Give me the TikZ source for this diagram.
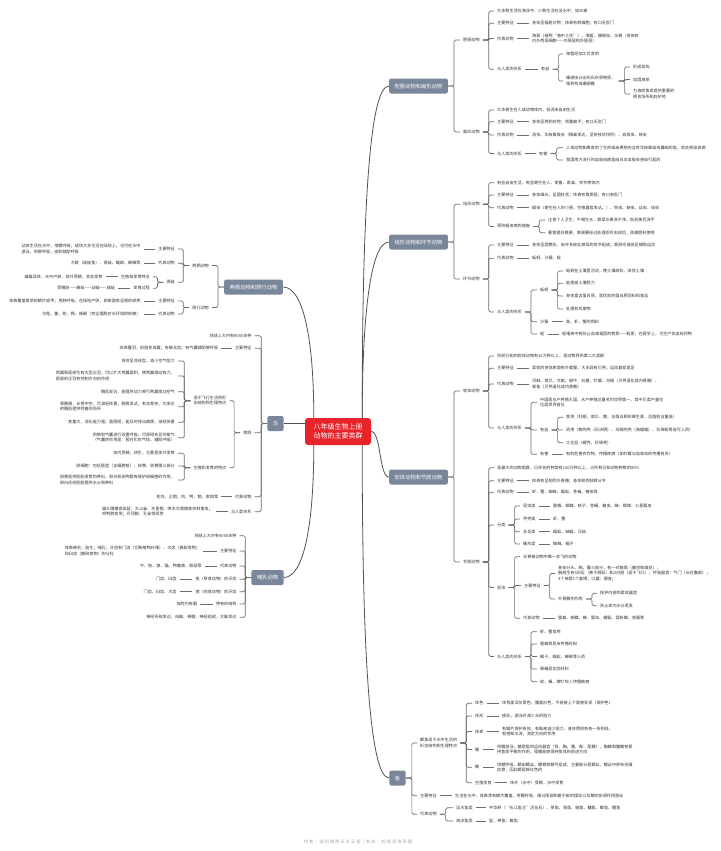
\documentclass[tikz,border=0pt]{standalone}
\usepackage{fontspec}
\newfontfamily\zh{Noto Sans CJK SC}
\definecolor{slate}{HTML}{7A869A}
\definecolor{rootred}{HTML}{E8232A}
\definecolor{wire}{HTML}{6E6E6E}
\definecolor{ink}{HTML}{333333}
\definecolor{faint}{HTML}{A8A8A8}
\begin{document}
\begin{tikzpicture}[x=1pt,y=-1pt,
    leaf/.style={font=\zh\fontsize{4.1}{5.4}\selectfont,text=ink,inner xsep=3pt,inner ysep=.5pt,align=left},
    leafr/.style={leaf,anchor=west},
    leafl/.style={leaf,anchor=east},
    topic/.style={fill=slate,text=white,font=\zh\fontsize{5.3}{6}\selectfont,rounded corners=2pt,inner xsep=5.5pt,minimum height=15pt},
    root/.style={fill=rootred,text=white,font=\zh\fontsize{7}{9}\selectfont,rounded corners=3pt,align=center,minimum width=66pt,minimum height=27pt},
    tie/.style={draw=wire,line width=.7pt},
    kid/.style={tie,rounded corners=1.5pt,to path={-- ++(6pt,0) |- (\tikztotarget)}},
    kidl/.style={tie,rounded corners=1.5pt,to path={-- ++(-6pt,0) |- (\tikztotarget)}},
    bough/.style={draw=wire!75!black,line width=.8pt}]
  \fill[white] (0,0) rectangle (720,851);
  \useasboundingbox (0,0) rectangle (720,851);
  \node[root] (root) at (338,431.5) {八年级生物上册\\动物的主要类群};
  \node[topic] (ta) at (418.5,86) {腔肠动物和扁形动物};
  \node[topic] (tb) at (418.5,242) {线形动物和环节动物};
  \node[topic] (tc) at (418.5,477) {软体动物和节肢动物};
  \node[topic] (td) at (397.5,778) {鱼};
  \node[topic] (te) at (253.5,287) {两栖动物和爬行动物};
  \node[topic] (tf) at (275.5,423.5) {鸟};
  \node[topic] (tg) at (267.5,577.5) {哺乳动物};
  \draw[bough] ([xshift=-9pt]root.north east) .. controls +(0,-200) and +(-20,0) .. (ta.west);
  \draw[bough] ([xshift=-9pt]root.north east) .. controls +(0,-90) and +(-20,0) .. (tb.west);
  \draw[bough] (root.east) .. controls +(10,0) and +(-10,0) .. (tc.west);
  \draw[bough] ([xshift=-9pt]root.south east) .. controls +(0,200) and +(-20,0) .. (td.west);
  \draw[bough] ([xshift=9pt]root.north west) .. controls +(0,-80) and +(20,0) .. (te.east);
  \draw[bough] (tf.east) -- (tf.east -| root.west);
  \draw[bough] ([xshift=9pt]root.south west) .. controls +(0,80) and +(20,0) .. (tg.east);

  \node[leafr] (a1) at (460,40) {腔肠动物};
  \node[leafr] (a11) at (494,11) {大多数生活在海洋中，少数生活在淡水中，如水螅};
  \node[leafr] (a12) at (494,23.3) {主要特征};
  \node[leafr] (a12x) at (529,23.3) {身体呈辐射对称；体表有刺细胞；有口无肛门};
  \node[leafr] (a13) at (494,38.5) {代表动物};
  \node[leafr] (a13x) at (529,38.5) {海葵（被称“海中之花”）、海蜇、珊瑚虫、水螅（身体有\\内外两层细胞——内胚层和外胚层）};
  \node[leafr] (a14) at (494,69.3) {与人类的关系};
  \node[leafr] (a14x) at (538,69.3) {有益};
  \node[leafr] (a141) at (563,54) {海蜇经加工可食用};
  \node[leafr] (a142) at (563,81) {珊瑚虫分泌的石灰质物质，\\堆积构成珊瑚礁};
  \node[leafr] (a1421) at (630,67) {形成岛屿};
  \node[leafr] (a1422) at (630,79.5) {加固海岸};
  \node[leafr] (a1423) at (630,94) {为海底鱼类提供重要的\\栖息场所和庇护地};
  \node[leafr] (a2) at (460,132) {扁形动物};
  \node[leafr] (a21) at (494,110) {大多寄生在人或动物体内，但涡虫自由生活};
  \node[leafr] (a22) at (494,121.7) {主要特征};
  \node[leafr] (a22x) at (529,121.7) {身体呈两侧对称；背腹扁平；有口无肛门};
  \node[leafr] (a23) at (494,135) {代表动物};
  \node[leafr] (a23x) at (529,135) {涡虫、华枝睾吸虫（精巢发达，呈树枝状排列）、血吸虫、绦虫};
  \node[leafr] (a24) at (494,153.5) {与人类的关系};
  \node[leafr] (a24x) at (536,153.5) {有害};
  \node[leafr] (a241) at (563,147.7) {人或动物如果食用了生的或未煮熟的含有华枝睾吸虫囊蚴的鱼，就会感染该病};
  \node[leafr] (a242) at (563,160) {我国南方流行的血吸虫病是由日本血吸虫感染引起的};

  \node[leafr] (b1) at (460,204.3) {线形动物};
  \node[leafr] (b11) at (494,182.7) {有些自由生活，有些寄生在人、家畜、家禽、农作物体内};
  \node[leafr] (b12) at (494,195) {主要特征};
  \node[leafr] (b12x) at (529,195) {身体细长，呈圆柱状；体表有角质层；有口有肛门};
  \node[leafr] (b13) at (494,207.7) {代表动物};
  \node[leafr] (b13x) at (529,207.7) {蛔虫（寄生在人的小肠，生殖器官发达。）、钩虫、蛲虫、丝虫、线虫};
  \node[leafr] (b14) at (494,226.4) {预防蛔虫病的措施};
  \node[leafr] (b141) at (545,220) {注意个人卫生，不喝生水，蔬菜水果洗干净，饭前便后洗手};
  \node[leafr] (b142) at (545,232.7) {要管理好粪便，粪便要经过处理杀死虫卵后，再做肥料使用};
  \node[leafr] (b2) at (460,279) {环节动物};
  \node[leafr] (b21) at (494,245) {主要特征};
  \node[leafr] (b21x) at (529,245) {身体呈圆筒形，由许多彼此相似的体节组成；靠刚毛或疣足辅助运动};
  \node[leafr] (b22) at (494,258.3) {代表动物};
  \node[leafr] (b22x) at (529,258.3) {蚯蚓、沙蚕、蛭};
  \node[leafr] (b23) at (494,312) {与人类的关系};
  \node[leafr] (b231) at (537,290) {蚯蚓};
  \node[leafr] (b2311) at (563,271) {蚯蚓在土壤里活动，使土壤疏松，改良土壤};
  \node[leafr] (b2312) at (563,283.3) {能提高土壤肥力};
  \node[leafr] (b2313) at (563,296) {身体富含蛋白质，是优良的蛋白质饲料和食品};
  \node[leafr] (b2314) at (563,309) {处理有机废物};
  \node[leafr] (b232) at (537,321.7) {沙蚕};
  \node[leafr] (b232x) at (563,321.7) {鱼、虾、蟹的饵料};
  \node[leafr] (b233) at (537,334) {蛭};
  \node[leafr] (b233x) at (559,334) {蛭唾液中有防止血液凝固的物质——蛭素，在医学上，可生产抗血栓药物};

  \node[leafr] (c1) at (460,391) {软体动物};
  \node[leafr] (c11) at (494,356) {目前已知的软体动物有10万种以上，是动物界的第二大类群};
  \node[leafr] (c12) at (494,368.3) {主要特征};
  \node[leafr] (c12x) at (529,368.3) {柔软的身体表面有外套膜，大多具有贝壳；运动器官是足};
  \node[leafr] (c13) at (494,384) {代表动物};
  \node[leafr] (c13x) at (529,384) {河蚌、扇贝、文蛤、蜗牛、石鳖、钉螺、乌贼（贝壳退化成内骨骼）、\\章鱼（贝壳退化成内骨骼）};
  \node[leafr] (c14) at (494,428) {与人类的关系};
  \node[leafr] (c141) at (537,402.3) {中国是水产养殖大国，水产养殖总量名列世界第一，其中贝类产量也\\位居世界首位};
  \node[leafr] (c142) at (537,430) {有益};
  \node[leafr] (c1421) at (563,417.3) {食用（牡蛎、扇贝、鲍，含蛋白质和维生素，且脂肪含量低）};
  \node[leafr] (c1422) at (563,430) {药用（鲍的壳（石决明）、乌贼的壳（海螵蛸）、珍珠粉等皆可入药）};
  \node[leafr] (c1423) at (563,442.7) {工艺品（螺壳、珍珠壳）};
  \node[leafr] (c143) at (537,454.3) {有害};
  \node[leafr] (c143x) at (563,454.3) {有的危害农作物，传播疾病（如钉螺与血吸虫的传播有关）};
  \node[leafr] (c2) at (460,562) {节肢动物};
  \node[leafr] (c21) at (494,467.7) {是最大的动物类群，已命名的种类有120万种以上，占所有已知动物种数的80\%};
  \node[leafr] (c22) at (494,480.7) {主要特征};
  \node[leafr] (c22x) at (529,480.7) {体表有坚韧的外骨骼；身体和附肢都分节};
  \node[leafr] (c23) at (494,492.3) {代表动物};
  \node[leafr] (c23x) at (529,492.3) {虾、蟹、蜘蛛、蜈蚣、苍蝇、蝗虫等};
  \node[leafr] (c24) at (494,525) {分类};
  \node[leafr] (c241) at (520,506) {昆虫类};
  \node[leafr] (c241x) at (550,506) {蜜蜂、蝴蝶、蚊子、苍蝇、蝗虫、蝉、蟋蟀、七星瓢虫};
  \node[leafr] (c242) at (520,519) {甲壳类};
  \node[leafr] (c242x) at (550,519) {虾、蟹};
  \node[leafr] (c243) at (520,531.7) {多足类};
  \node[leafr] (c243x) at (550,531.7) {蜈蚣、蚰蜒、马陆};
  \node[leafr] (c244) at (520,544) {蛛形类};
  \node[leafr] (c244x) at (550,544) {蜘蛛、蝎子};
  \node[leafr] (c25) at (494,587.5) {昆虫};
  \node[leafr] (c251) at (520,556.7) {无脊椎动物中唯一会飞的动物};
  \node[leafr] (c252) at (521,585.5) {主要特征};
  \node[leafr] (c2521) at (555,573.5) {身体分头、胸、腹三部分；有一对触角（触觉和嗅觉）；\\胸部生有3对足（善于跳跃）和2对翅（适于飞行）；呼吸器官：气门（长在腹部）；\\3个单眼1个复眼；口器：摄食；};
  \node[leafr] (c2522) at (555,599) {外骨骼的作用};
  \node[leafr] (c25221) at (597,593.3) {保护内部的柔软器官};
  \node[leafr] (c25222) at (597,605.7) {防止体内水分蒸发};
  \node[leafr] (c253) at (520,618.3) {代表动物};
  \node[leafr] (c253x) at (555,618.3) {蜜蜂、蝴蝶、蝉、瓢虫、蜻蜓、菜粉蝶、家蚕等};
  \node[leafr] (c26) at (494,656.5) {与人类的关系};
  \node[leafr] (c261) at (537,631.7) {虾、蟹食用};
  \node[leafr] (c262) at (537,644) {蜜蜂等昆虫传播花粉};
  \node[leafr] (c263) at (537,656.5) {蝎子、蜈蚣、蝉蜕等入药};
  \node[leafr] (c264) at (537,669) {果蝇是实验材料};
  \node[leafr] (c265) at (537,681.7) {蚊、蝇、蜱叮咬人传播疾病};

  \node[leafr] (d1) at (417,743) {鲫鱼适于水中生活的\\形态结构和生理特点};
  \node[leafr] (d11) at (472,703.3) {体色};
  \node[leafr] (d11x) at (499,703.3) {体背面深灰黑色，腹面白色，不易被上下敌害发现（保护色）};
  \node[leafr] (d12) at (472,716) {体形};
  \node[leafr] (d12x) at (499,716) {梭形，游泳时减少水的阻力};
  \node[leafr] (d13) at (472,731.5) {体表};
  \node[leafr] (d13x) at (499,731.5) {有鳞片保护身体，有黏液减少阻力，身体两侧各有一条侧线，\\有感知水流，测定方向的作用};
  \node[leafr] (d14) at (472,749.5) {鳍};
  \node[leafr] (d14x) at (494,749.5) {用鳍游泳，鳍是鱼的运动器官（背、胸、腹、臀、尾鳍），胸鳍和腹鳍有保\\持鱼体平衡的作用，尾鳍能够保持鱼体的前进方向};
  \node[leafr] (d15) at (472,767.3) {鳃};
  \node[leafr] (d15x) at (494,767.3) {用鳃呼吸，鳃由鳃丝、鳃耙和鳃弓组成，主要部分是鳃丝，鳃丝中密布毛细\\血管，因此鳃是鲜红色的};
  \node[leafr] (d16) at (472,782.7) {生殖发育};
  \node[leafr] (d16x) at (507,782.7) {体外（水中）受精，水中发育};
  \node[leafr] (d2) at (417,795.7) {主要特征};
  \node[leafr] (d2x) at (452,795.7) {生活在水中，体表常有鳞片覆盖，用鳃呼吸，通过尾部和躯干部的摆动以及鳍的协调作用游泳};
  \node[leafr] (d3) at (417,814.3) {代表动物};
  \node[leafr] (d31) at (453,807.7) {淡水鱼类};
  \node[leafr] (d31x) at (486,807.7) {中华鲟（“长江鱼王”活化石）、草鱼、青鱼、鲢鱼、鳙鱼、鲫鱼、鲤鱼};
  \node[leafr] (d32) at (453,821) {海洋鱼类};
  \node[leafr] (d32x) at (486,821) {鲨、带鱼、鲅鱼};

  \node[leafl] (e1) at (212,265.5) {两栖动物};
  \node[leafl] (e11) at (178,249) {主要特征};
  \node[leafl] (e11x) at (143.7,249) {幼体生活在水中，用鳃呼吸；成体大多生活在陆地上，也可在水中\\游泳，用肺呼吸，皮肤辅助呼吸};
  \node[leafl] (e12) at (178,263.3) {代表动物};
  \node[leafl] (e12x) at (143.7,263.3) {大鲵（娃娃鱼）、青蛙、蟾蜍、蝾螈等};
  \node[leafl] (e13) at (178,282.3) {青蛙};
  \node[leafl] (e131) at (153,276.7) {生殖和发育特点};
  \node[leafl] (e131x) at (105.7,276.7) {雌雄异体，水中产卵，体外受精，变态发育};
  \node[leafl] (e132) at (153,288.3) {发育过程};
  \node[leafl] (e132x) at (118,288.3) {受精卵——蝌蚪——幼蛙——成蛙};
  \node[leafl] (e2) at (212,307.5) {爬行动物};
  \node[leafl] (e21) at (178,301) {主要特征};
  \node[leafl] (e21x) at (143.7,301) {体表覆盖角质的鳞片或甲；用肺呼吸；在陆地产卵，卵表面有坚韧的卵壳};
  \node[leafl] (e22) at (178,314) {代表动物};
  \node[leafl] (e22x) at (143.7,314) {乌龟、鳖、蛇、鳄、蜥蜴（完全摆脱对水环境的依赖）};

  \node[leafl] (f1) at (254.7,335.7) {地球上大约有9000多种};
  \node[leafl] (f2) at (254.7,348.3) {主要特征};
  \node[leafl] (f2x) at (221.3,348.3) {体表覆羽，前肢变成翼；有喙无齿；有气囊辅助肺呼吸};
  \node[leafl] (f3) at (254.7,432.7) {家鸽};
  \node[leafl] (f31) at (229.5,400.7) {适于飞行生活的形\\态结构和生理特点};
  \node[leafl] (f311) at (178,361) {身体呈流线型，减小空气阻力};
  \node[leafl] (f312) at (178,376) {两翼和尾部生有大型正羽，可以扩大两翼面积，使两翼扇动有力，\\尾部的正羽有控制方向的作用};
  \node[leafl] (f313) at (178,391.7) {胸肌发达，能提供动力牵引两翼扇动空气};
  \node[leafl] (f314) at (178,406.7) {骨骼薄，长骨中空，可减轻体重；胸骨发达，有龙骨突，为发达\\的胸肌提供附着的场所};
  \node[leafl] (f315) at (178,422.3) {食量大，消化能力强；直肠短，能及时排出粪便，减轻体重};
  \node[leafl] (f316) at (178,437.7) {用肺和气囊进行双重呼吸，可获得充足的氧气\\（气囊的作用是：暂时贮存气体，辅助呼吸）};
  \node[leafl] (f32) at (229.5,467.7) {生殖和发育的特点};
  \node[leafl] (f321) at (178,453.3) {体内受精，卵生，主要是体外发育};
  \node[leafl] (f322) at (178,466) {卵细胞：包括胚盘（含细胞核）、卵黄、卵黄膜三部分};
  \node[leafl] (f323) at (178,480) {卵黄是供胚胎发育的养料，卵白和卵壳都有保护卵细胞的作用，\\卵白还给胚胎提供水分和养料};
  \node[leafl] (f4) at (254.7,496.7) {代表动物};
  \node[leafl] (f4x) at (221.3,496.7) {鸵鸟、企鹅、鸡、鸭、鹅、家鸽等};
  \node[leafl] (f5) at (254.7,511.7) {与人类关系};
  \node[leafl] (f5x) at (216,511.7) {猫头鹰捕食田鼠；大山雀、灰喜鹊、啄木鸟等捕食农林害虫；\\鸡鸭鹅食用；丹顶鹤、孔雀等观赏};

  \node[leafl] (g1) at (239.7,535.7) {地球上大约有4000多种};
  \node[leafl] (g2) at (239.7,551) {主要特征};
  \node[leafl] (g2x) at (203.3,551) {体表被毛；胎生；哺乳；牙齿有门齿（切断植物纤维）、犬齿（撕裂食物）\\和臼齿（磨碎食物）的分化};
  \node[leafl] (g3) at (239.7,566) {代表动物};
  \node[leafl] (g3x) at (204.7,566) {牛、狗、狼、猫、鸭嘴兽、袋鼠等};
  \node[leafl] (g4) at (239.7,579.3) {兔（草食动物）的牙齿};
  \node[leafl] (g4x) at (179.7,579.3) {门齿、臼齿};
  \node[leafl] (g5) at (239.7,591.7) {狼（肉食动物）的牙齿};
  \node[leafl] (g5x) at (179.7,591.7) {门齿、臼齿、犬齿};
  \node[leafl] (g6) at (239.7,604) {特有的结构};
  \node[leafl] (g6x) at (200.3,604) {体腔内有膈};
  \node[leafl] (g7) at (239.7,617.3) {神经系统发达，由脑、脊髓、神经组成，大脑发达};

  \foreach \p/\k in {ta/a1,ta/a2,a1/a11,a1/a12,a1/a13,a1/a14,a14x/a141,a14x/a142,a142/a1421,a142/a1422,a142/a1423,
      a2/a21,a2/a22,a2/a23,a2/a24,a24x/a241,a24x/a242,
      tb/b1,tb/b2,b1/b11,b1/b12,b1/b13,b1/b14,b14/b141,b14/b142,b2/b21,b2/b22,b2/b23,
      b23/b231,b23/b232,b23/b233,b231/b2311,b231/b2312,b231/b2313,b231/b2314,
      tc/c1,tc/c2,c1/c11,c1/c12,c1/c13,c1/c14,c14/c141,c14/c142,c14/c143,c142/c1421,c142/c1422,c142/c1423,
      c2/c21,c2/c22,c2/c23,c2/c24,c2/c25,c2/c26,c24/c241,c24/c242,c24/c243,c24/c244,
      c25/c251,c25/c252,c25/c253,c252/c2521,c252/c2522,c2522/c25221,c2522/c25222,
      c26/c261,c26/c262,c26/c263,c26/c264,c26/c265,
      td/d1,td/d2,td/d3,d1/d11,d1/d12,d1/d13,d1/d14,d1/d15,d1/d16,d3/d31,d3/d32}
    \draw[kid] (\p.east) to (\k.west);
  \foreach \p/\k in {a12/a12x,a13/a13x,a14/a14x,a22/a22x,a23/a23x,a24/a24x,b12/b12x,b13/b13x,b21/b21x,b22/b22x,
      b232/b232x,b233/b233x,c12/c12x,c13/c13x,c143/c143x,c22/c22x,c23/c23x,c241/c241x,c242/c242x,c243/c243x,
      c244/c244x,c253/c253x,d11/d11x,d12/d12x,d13/d13x,d14/d14x,d15/d15x,d16/d16x,d2/d2x,d31/d31x,d32/d32x}
    \draw[tie] (\p.east) -- (\k.west);
  \foreach \p/\k in {te/e1,te/e2,e1/e11,e1/e12,e1/e13,e13/e131,e13/e132,e2/e21,e2/e22,
      tf/f1,tf/f2,tf/f3,tf/f4,tf/f5,f3/f31,f3/f32,f31/f311,f31/f312,f31/f313,f31/f314,f31/f315,f31/f316,
      f32/f321,f32/f322,f32/f323,tg/g1,tg/g2,tg/g3,tg/g4,tg/g5,tg/g6,tg/g7}
    \draw[kidl] (\p.west) to (\k.east);
  \foreach \p/\k in {e11/e11x,e12/e12x,e131/e131x,e132/e132x,e21/e21x,e22/e22x,f2/f2x,f4/f4x,f5/f5x,
      g2/g2x,g3/g3x,g4/g4x,g5/g5x,g6/g6x}
    \draw[tie] (\p.west) -- (\k.east);

  \node[font=\zh\fontsize{4.3}{5}\selectfont,text=faint] (credit) at (358,842.5) {作 者 ： 送 别 婉 转 天 外 云 客 \ | \ 来 自 ： 知 犀 思 维 导 图};
\end{tikzpicture}
\end{document}
